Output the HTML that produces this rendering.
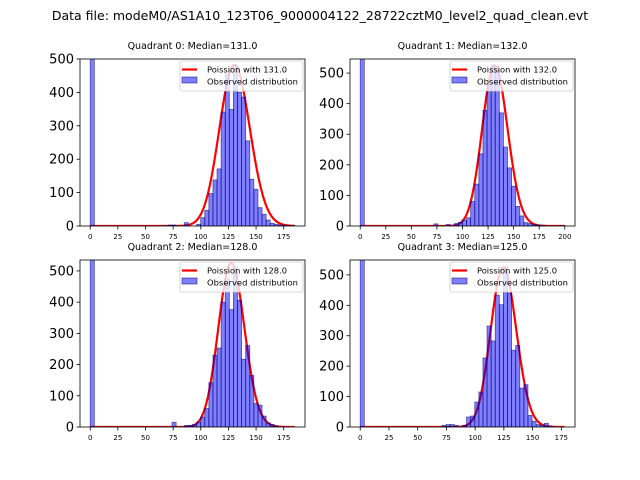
<!DOCTYPE html>
<html><head><meta charset="utf-8">
<style>
html,body{margin:0;padding:0;background:#fff;}
svg{display:block;font-family:"DejaVu Sans","Liberation Sans",sans-serif;}
</style></head>
<body>
<svg id="fig" width="640" height="480" viewBox="0 0 640 480" xmlns="http://www.w3.org/2000/svg">
<rect x="0" y="0" width="640" height="480" fill="#fff"/>
<text x="320" y="20" text-anchor="middle" font-size="12.5">Data file: modeM0/AS1A10_123T06_9000004122_28722cztM0_level2_quad_clean.evt</text>
</svg>
<script>
// Quadrant data
const quadTitles = ["Quadrant 0: Median=131.0","Quadrant 1: Median=132.0","Quadrant 2: Median=128.0","Quadrant 3: Median=125.0"];
const medians = [131, 132, 128, 125];
const dataMax = [185, 200, 185, 178];
const yMax = [500, 546, 535, 549];
const curvePeak = [482, 525, 525, 525];
const curveWidth = [1.2, 1.08, 1.04, 1.0];
const xTicks0 = [0,25,50,75,100,125,150,175];
const xTicks1 = [0,25,50,75,100,125,150,175,200];
const xTicks2 = [0,25,50,75,100,125,150,175];
const xTicks3 = [0,25,50,75,100,125,150,175];
const yTicks0 = [0,100,200,300,400,500];
const yTicks1 = [0,100,200,300,400,500];
const yTicks2 = [0,100,200,300,400,500];
const yTicks3 = [0,100,200,300,400,500];
// histogram counts: [binIndex, count] (50 bins over 0..dataMax)
const counts0 = [[0,3000],[19,3],[20,3],[23,10],[26,5],[27,25],[28,47],[29,97],[30,138],[31,171],[32,341],[33,456],[34,349],[35,482],[36,400],[37,386],[38,255],[39,140],[40,110],[41,55],[42,35],[43,18],[44,8],[45,5],[46,3],[47,2],[48,1],[49,1]];
const counts1 = [[0,3000],[18,7],[21,5],[23,8],[24,12],[25,19],[26,27],[27,80],[28,137],[29,236],[30,378],[31,460],[32,526],[33,510],[34,370],[35,258],[36,190],[37,130],[38,64],[39,33],[40,11],[41,8],[42,5],[43,3],[44,2],[49,1]];
const counts2 = [[0,3000],[20,15],[23,5],[24,5],[25,8],[26,15],[27,32],[28,59],[29,142],[30,230],[31,253],[32,400],[33,475],[34,376],[35,513],[36,406],[37,217],[38,261],[39,165],[40,75],[41,70],[42,35],[43,13],[44,8],[45,3]];
const counts3 = [[0,3000],[20,5],[21,8],[22,8],[23,5],[25,5],[26,33],[27,36],[28,82],[29,115],[30,227],[31,332],[32,283],[33,433],[34,402],[35,526],[36,440],[37,252],[38,268],[39,128],[40,139],[41,38],[42,19],[43,8],[44,5],[45,12],[46,3]];

const xTicksAll=[xTicks0,xTicks1,xTicks2,xTicks3];
const yTicksAll=[yTicks0,yTicks1,yTicks2,yTicks3];
const countsAll=[counts0,counts1,counts2,counts3];
const boxes=[{x:80,y:59,w:225,h:167},{x:350,y:59,w:225,h:167},{x:80,y:260,w:225,h:167},{x:350,y:260,w:225,h:167}];
const NS="http://www.w3.org/2000/svg";
const svg=document.getElementById('fig');
function mk(tag,attrs,parent){const e=document.createElementNS(NS,tag);for(const k in attrs)e.setAttribute(k,attrs[k]);(parent||svg).appendChild(e);return e;}
// continuous log-gamma (Stirling) for log(k!)
function lfact(k){const n=k+1;return (n-0.5)*Math.log(n)-n+0.5*Math.log(2*Math.PI)+1/(12*n);}

for(let q=0;q<4;q++){
  const b=boxes[q], M=dataMax[q], pad=M*0.05;
  const xs=v=>b.x+(v+pad)/(M+2*pad)*b.w;
  const ys=v=>b.y+b.h-v/yMax[q]*b.h;
  const g=mk('g',{});
  
  
  const cid='clip'+q;
  const cp=mk('clipPath',{id:cid},g);
  mk('rect',{x:b.x,y:b.y,width:b.w,height:b.h},cp);
  const t=mk('text',{x:b.x+b.w/2,y:b.y-10,'text-anchor':'middle','font-size':'9.5'},g);
  
  
  t.textContent=quadTitles[q];
  const pg=mk('g',{'clip-path':'url(#'+cid+')'},g);
  // poisson curve
  const mu=medians[q], wf=curveWidth[q];
  const lpmf=k=>k*Math.log(mu)-mu-lfact(k);
  const peakL=lpmf(mu);
  let d='';
  for(let k=0;k<=M;k+=0.5){
    const ke=Math.max(0,mu+(k-mu)/wf);
    const p=Math.exp(lpmf(ke)-peakL)*curvePeak[q];
    d+=(k?'L':'M')+xs(k).toFixed(2)+','+ys(p).toFixed(2);
  }
  const cv=mk('path',{d:d,fill:'none',stroke:'#ff0000','stroke-width':2.2,'stroke-linejoin':'round'},pg);
  
  
  // bars
  const bw=M/50;
  countsAll[q].forEach(([i,c])=>{
    const x0=xs(i*bw), x1=xs((i+1)*bw);
    const r=mk('rect',{x:x0,y:ys(c),width:x1-x0,height:ys(0)-ys(c),fill:'rgba(0,0,255,0.5)',stroke:'rgba(0,0,110,0.6)','stroke-width':0.8},pg);
    
    
  });
  // axes frame
  mk('rect',{x:b.x,y:b.y,width:b.w,height:b.h,fill:'none',stroke:'#000','stroke-width':0.8},g);
  xTicksAll[q].forEach(v=>{
    const x=xs(v);
    mk('line',{x1:x,x2:x,y1:b.y+b.h,y2:b.y+b.h+3.5,stroke:'#000','stroke-width':0.8},g);
    const tl=mk('text',{x:x,y:b.y+b.h+13,'text-anchor':'middle','font-size':'7'},g);
    
    
    tl.textContent=v;
  });
  yTicksAll[q].forEach(v=>{
    const y=ys(v);
    mk('line',{x1:b.x,x2:b.x-3.5,y1:y,y2:y,stroke:'#000','stroke-width':0.8},g);
    const tl=mk('text',{x:b.x-6,y:y+4.5,'text-anchor':'end','font-size':'13'},g);
    
    
    tl.textContent=v;
  });
  // legend
  const lx=b.x+b.w-125, ly=b.y+2;
  const lg=mk('g',{},g);
  
  
  mk('rect',{x:lx,y:ly,width:123,height:30,rx:2,fill:'rgba(255,255,255,0.8)',stroke:'#ccc','stroke-width':0.8},lg);
  mk('line',{x1:lx+2,x2:lx+17,y1:ly+8.5,y2:ly+8.5,stroke:'#ff0000','stroke-width':2.2},lg);
  const t1=mk('text',{x:lx+27,y:ly+11.5,'font-size':'8',textLength:'80',lengthAdjust:'spacingAndGlyphs'},lg);
  
  
  t1.textContent='Poission with '+medians[q].toFixed(1);
  mk('rect',{x:lx+2,y:ly+16,width:15,height:6,fill:'rgba(0,0,255,0.5)',stroke:'rgba(0,0,110,0.6)','stroke-width':0.8},lg);
  const t2=mk('text',{x:lx+27,y:ly+23.5,'font-size':'8',textLength:'91',lengthAdjust:'spacingAndGlyphs'},lg);
  
  
  t2.textContent='Observed distribution';
}
</script>
</body></html>
